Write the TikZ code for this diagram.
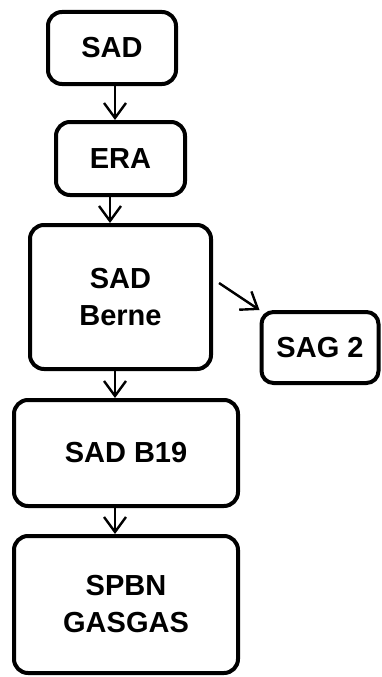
\documentclass[tikz,border=0pt]{standalone}
\usepackage{fontspec}
\setmainfont{Liberation Sans}
\usetikzlibrary{arrows.meta}

\begin{document}
\begin{tikzpicture}[x=1pt, y=-1pt,
    box/.style={draw, line width=4pt, rounded corners=14pt, align=center,
      font=\fontsize{29}{37}\selectfont\bfseries, inner sep=0pt},
    arr/.style={line width=2.4pt, -{Straight Barb[length=15pt, width=22pt, line width=2.4pt]}}]
  \useasboundingbox (0,0) rectangle (382,677);

  % chain of boxes
  \node[box, minimum width=128pt, minimum height=72pt] (sad) at (112,48) {SAD};
  \node[box, minimum width=129pt, minimum height=73pt] (era) at (120.5,158.5) {ERA};
  \node[box, minimum width=181pt, minimum height=144pt] (berne) at (120.5,297) {SAD\\Berne};
  \node[box, minimum width=117pt, minimum height=71pt, rounded corners=12pt] (sag) at (320,347.5) {SAG 2};
  \node[box, minimum width=224pt, minimum height=106pt] (b19) at (126,453) {SAD B19};
  \node[box, minimum width=224pt, minimum height=137pt] (spbn) at (126,604.5) {SPBN\\GASGAS};

  % arrows
  \draw[arr] (sad.south -| 115,0) -- (era.north -| 115,0);
  \draw[arr] (era.south -| 110,0) -- (berne.north -| 110,0);
  \draw[arr] ([shift={(6,-14)}]berne.east) -- (sag.north west);
  \draw[arr] (berne.south -| 115,0) -- (b19.north -| 115,0);
  \draw[arr] (b19.south -| 115,0) -- (spbn.north -| 115,0);
\end{tikzpicture}
\end{document}
